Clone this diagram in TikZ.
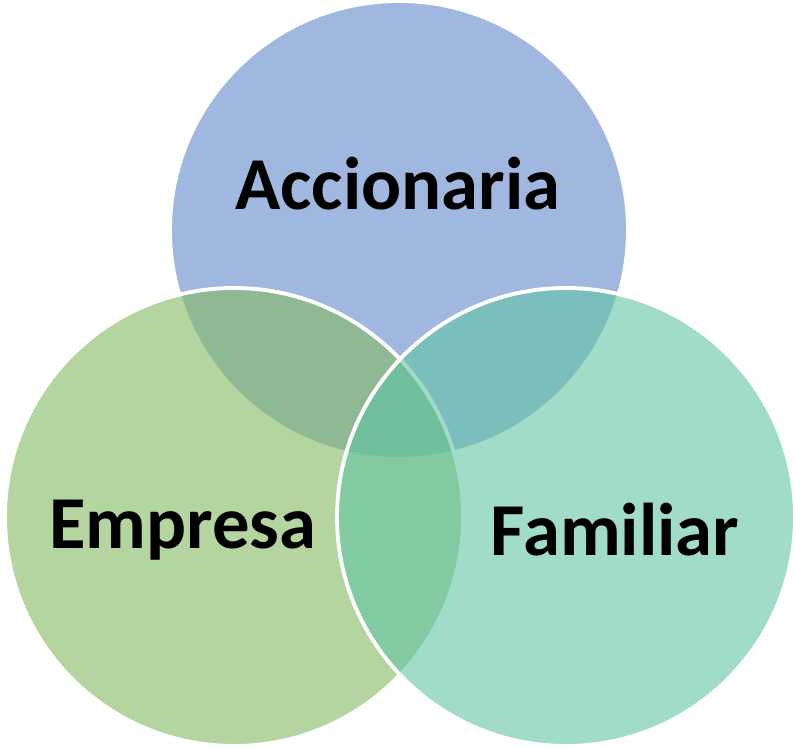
\documentclass[tikz,border=0pt]{standalone}
\usepackage{fontspec}
\setmainfont{Carlito}

\definecolor{accblue}{RGB}{97,137,203}
\definecolor{empgreen}{RGB}{132,185,97}
\definecolor{famteal}{RGB}{97,197,163}

\begin{document}
\begin{tikzpicture}
                        \useasboundingbox (0, 0) rectangle (15.92, 14.96);
                        \tikzset{venn/.style = {circle, minimum size = 9.16cm, inner sep = 0, draw = white, line width = 2.2pt, fill opacity = 0.6},
                                 label/.style = {font = \bfseries\fontsize{42.5}{42.5}\selectfont, text = black}}
                        \node[venn, fill = accblue] (acc) at (7.98, 10.36) {};
                        \node[venn, fill = empgreen] (emp) at (4.68, 4.62) {};
                        \node[venn, fill = famteal] (fam) at (11.32, 4.62) {};
                        \node[label] (accText) at (7.96, 11.28) {Accionaria};
                        \node[label] (empText) at (3.66, 4.36) {Empresa};
                        \node[label] (famText) at (12.30, 4.36) {Familiar};
                  \end{tikzpicture}
\end{document}
